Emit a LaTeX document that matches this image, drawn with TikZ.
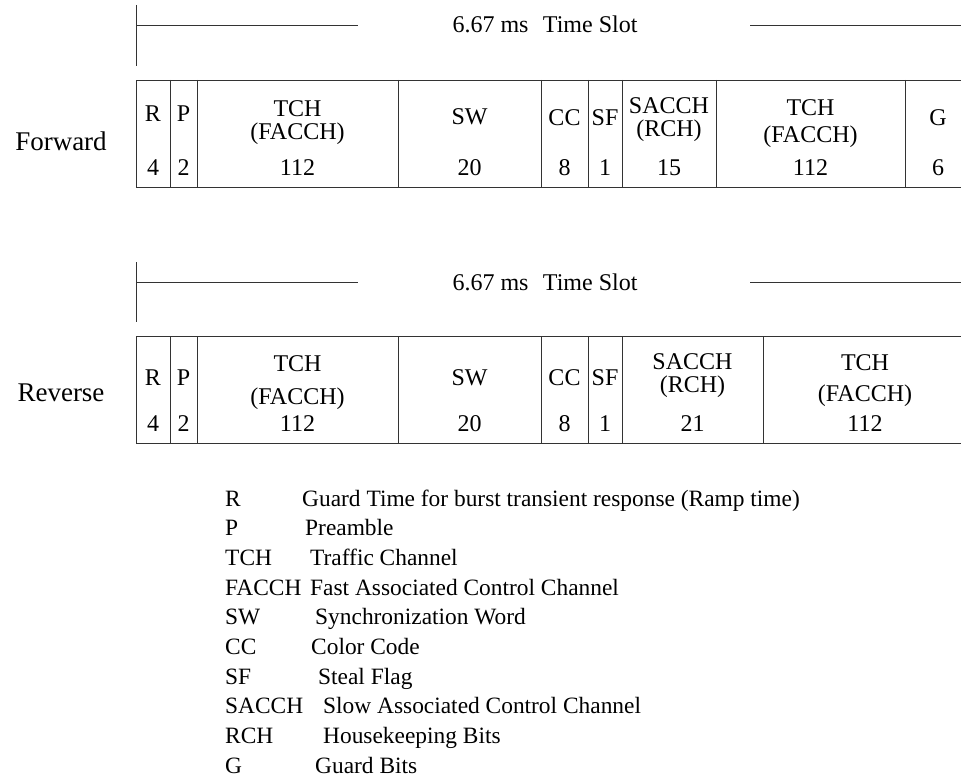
\documentclass[tikz,border=0pt]{standalone}
\usepackage{fontspec}
\setmainfont{Liberation Serif}
\usepackage{tikz}
\usetikzlibrary{positioning}

\tikzset{
  rule/.style={line width=0.9pt,black!80},
  cell/.style={inner sep=0pt,anchor=base,text height=0.68em,text depth=0.18em,
    font=\fontsize{24}{28}\selectfont},
  side/.style={inner sep=0pt,font=\fontsize{27}{32}\selectfont},
  keyitem/.style={inner sep=0pt,anchor=base west,font=\fontsize{23.4}{28}\selectfont}
}

\begin{document}
\begin{tikzpicture}[x=1pt,y=-1pt]
\useasboundingbox (0,0) rectangle (961,778);

% time slot marks
\draw[rule] (136,5) -- (136,66);
\draw[rule] (136,25) -- (358,25);
\draw[rule] (750,25) -- (961,25);
\node[cell] (slotf) at (545,33) {6.67 ms\hspace{0.6em}Time Slot};
\draw[rule] (136,262) -- (136,322);
\draw[rule] (136,282) -- (358,282);
\draw[rule] (750,282) -- (961,282);
\node[cell] (slotr) at (545,290) {6.67 ms\hspace{0.6em}Time Slot};

% forward frame
\draw[rule] (961,80) -- (136,80) -- (136,187) -- (961,187);
\foreach \x in {170,197,398,541,588,622,716,905}
  \draw[rule] (\x,80) -- (\x,187);
\foreach \x/\y/\t [count=\i] in {153/114/R, 183.5/114/P, 297.5/109/TCH, 297.5/132/(FACCH),
    469.5/117/SW, 564.5/118/CC, 605/118/SF, 669/106/SACCH, 669/129/(RCH),
    810.5/108/TCH, 810.5/135/(FACCH), 938/118/G,
    153/168/4, 183.5/168/2, 297.5/168/112, 469.5/168/20, 564.5/168/8,
    605/168/1, 669/168/15, 810.5/168/112, 938/168/6}
  \node[cell] (fw\i) at (\x,\y+8) {\t};
\node[side] (fwd) at (61,141) {Forward};

% reverse frame
\draw[rule] (961,336) -- (136,336) -- (136,443) -- (961,443);
\foreach \x in {170,197,398,541,588,622,763}
  \draw[rule] (\x,336) -- (\x,443);
\foreach \x/\y/\t [count=\i] in {153/377/R, 183.5/377/P, 297.5/363/TCH, 297.5/396/(FACCH),
    469.5/377/SW, 564.5/377/CC, 605/377/SF, 692.5/361/SACCH, 692.5/384/(RCH),
    865/362/TCH, 865/393/(FACCH),
    153/423/4, 183.5/423/2, 297.5/423/112, 469.5/423/20, 564.5/423/8,
    605/423/1, 692.5/423/21, 865/423/112}
  \node[cell] (rv\i) at (\x,\y+8) {\t};
\node[side] (rev) at (61,393) {Reverse};

% key
\foreach \k/\d/\t [count=\i from 0] in {R/302/Guard Time for burst transient response (Ramp time),
    P/305/Preamble, TCH/310/Traffic Channel, FACCH/310/Fast Associated Control Channel,
    SW/315/Synchronization Word, CC/311/Color Code, SF/318/Steal Flag,
    SACCH/323/Slow Associated Control Channel, RCH/323/Housekeeping Bits, G/315/Guard Bits}
{
  \node[keyitem] (key\i) at (225,498+29.67*\i+8) {\k};
  \node[keyitem] (txt\i) at (\d,498+29.67*\i+8) {\t};
}
\end{tikzpicture}
\end{document}
